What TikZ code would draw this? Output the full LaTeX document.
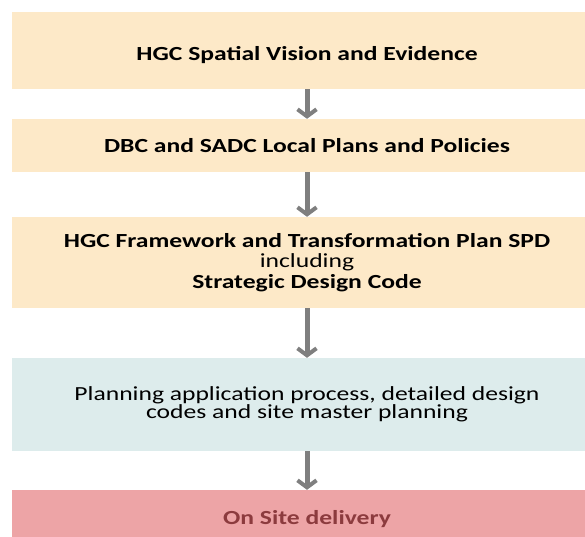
\documentclass[tikz,border=0pt]{standalone}
\usepackage{fontspec}
\setmainfont{Carlito}
\usetikzlibrary{arrows.meta}
\definecolor{peach}{HTML}{FDE9C8}
\definecolor{tealbg}{HTML}{DDECEC}
\definecolor{pinkbg}{HTML}{EDA4A6}
\definecolor{darkred}{HTML}{8C3B3E}
\definecolor{arrowgray}{HTML}{7F7F7F}
\newcommand{\wtxt}[1]{\scalebox{1.28}[1]{#1}}
\begin{document}
\begin{tikzpicture}[x=1pt,y=-1pt,
  box/.style={rectangle, inner sep=0pt, minimum width=590pt, align=center, font=\fontsize{20}{20.5}\selectfont},
  flow/.style={draw=arrowgray, line width=5pt, -{Straight Barb[length=7pt,width=19pt,line width=4pt]}}]
\useasboundingbox (0,0) rectangle (585,536);
\node[box, fill=peach, minimum height=77pt, text height=24pt, text depth=4.5pt, font=\fontsize{20}{20.5}\selectfont\bfseries] (b1) at (307,50.5) {\wtxt{HGC Spatial Vision and Evidence}};
\node[box, fill=peach, minimum height=53pt, font=\fontsize{20}{20.5}\selectfont\bfseries] (b2) at (307,145.5) {\wtxt{DBC and SADC Local Plans and Policies}};
\node[box, fill=peach, minimum height=91pt] (b3) at (307,262.5) {\wtxt{\textbf{HGC Framework and Transformation Plan SPD}}\\\wtxt{including}\\\wtxt{\textbf{Strategic Design Code}}};
\node[box, fill=tealbg, minimum height=93pt, font=\fontsize{20}{18.5}\selectfont] (b4) at (307,404.5) {\wtxt{Planning application process, detailed design}\\\wtxt{codes and site master planning}};
\node[box, fill=pinkbg, minimum height=58pt, text=darkred, font=\fontsize{20}{20.5}\selectfont\bfseries] (b5) at (307,519) {\wtxt{On Site delivery}};
\draw[flow] (b1.south) -- (b2.north);
\draw[flow] (b2.south) -- (b3.north);
\draw[flow] (b3.south) -- (b4.north);
\draw[flow] (b4.south) -- (b5.north);
\end{tikzpicture}
\end{document}
